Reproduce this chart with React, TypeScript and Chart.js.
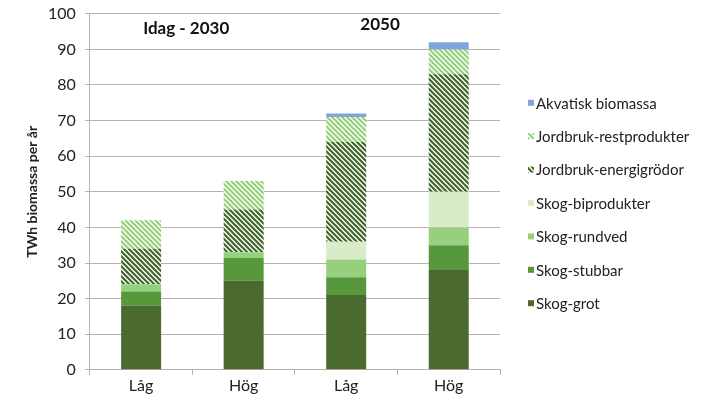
import React, { useEffect, useRef } from "react";
import { Chart, registerables } from "chart.js";

Chart.register(...registerables);

const categories = ["Låg", "Hög", "Låg", "Hög"];
const periodLabels = ["Idag - 2030", "2050"];
const skogGrot = [18, 25, 21, 28];
const skogStubbar = [4, 6.5, 5, 7];
const skogRundved = [2, 1.5, 5, 5];
const skogBiprodukter = [0, 0, 5, 10];
const jordbrukEnergigrodor = [10, 12, 28, 33];
const jordbrukRestprodukter = [8, 8, 7, 7];
const akvatiskBiomassa = [0, 0, 1, 2];

function makeHatch(color: string): CanvasPattern | string {
  const s = 5;
  const c = document.createElement("canvas");
  c.width = s;
  c.height = s;
  const ctx = c.getContext("2d");
  if (!ctx) return color;
  ctx.fillStyle = "#ffffff";
  ctx.fillRect(0, 0, s, s);
  ctx.strokeStyle = color;
  ctx.lineWidth = 2.2;
  ctx.lineCap = "square";
  ctx.beginPath();
  ctx.moveTo(0, 0);
  ctx.lineTo(s, s);
  ctx.moveTo(-s, 0);
  ctx.lineTo(0, s);
  ctx.moveTo(0, -s);
  ctx.lineTo(s, 0);
  ctx.moveTo(s, 0);
  ctx.lineTo(2 * s, s);
  ctx.moveTo(0, s);
  ctx.lineTo(s, 2 * s);
  ctx.stroke();
  return ctx.createPattern(c, "repeat") || color;
}

export default function App() {
  const ref = useRef<HTMLCanvasElement | null>(null);

  useEffect(() => {
    if (!ref.current) return;
    const font = "Lato, 'Open Sans', sans-serif";
    const energiHatch = makeHatch("#40662a");
    const restHatch = makeHatch("#96d07a");

    const annot = {
      id: "periodAnnot",
      afterDraw(chart: any) {
        const { ctx, scales } = chart;
        const x = scales.x;
        const y = scales.y;
        ctx.save();
        ctx.font = `bold 17px ${font}`;
        ctx.fillStyle = "#111";
        ctx.textAlign = "center";
        ctx.textBaseline = "middle";
        ctx.fillText(periodLabels[0], x.getPixelForValue(0.44), y.getPixelForValue(96));
        ctx.fillText(periodLabels[1], x.getPixelForValue(2.33), y.getPixelForValue(97));

        // custom legend (reversed order, to the right of the plot)
        const ds = chart.data.datasets;
        ctx.font = `15px ${font}`;
        ctx.textAlign = "left";
        const boxX = chart.chartArea.right + 28;
        const startY = chart.chartArea.top + 89;
        const step = 33.4;
        for (let i = ds.length - 1, k = 0; i >= 0; i--, k++) {
          const cy = startY + k * step;
          ctx.fillStyle = ds[i].backgroundColor;
          ctx.fillRect(boxX, cy - 3, 6, 6);
          ctx.fillStyle = "#222";
          ctx.fillText(ds[i].label, boxX + 8, cy + 1);
        }
        ctx.restore();
      },
    };

    const chart = new Chart(ref.current, {
      type: "bar",
      data: {
        labels: categories,
        datasets: [
          { label: "Skog-grot", data: skogGrot, backgroundColor: "#4a6a30" },
          { label: "Skog-stubbar", data: skogStubbar, backgroundColor: "#57983c" },
          { label: "Skog-rundved", data: skogRundved, backgroundColor: "#96d07c" },
          { label: "Skog-biprodukter", data: skogBiprodukter, backgroundColor: "#d8ecca" },
          { label: "Jordbruk-energigrödor", data: jordbrukEnergigrodor, backgroundColor: energiHatch as any },
          { label: "Jordbruk-restprodukter", data: jordbrukRestprodukter, backgroundColor: restHatch as any },
          { label: "Akvatisk biomassa", data: akvatiskBiomassa, backgroundColor: "#7fa6da" },
        ],
      },
      options: {
        animation: false,
        responsive: true,
        maintainAspectRatio: false,
        layout: { padding: { top: 1, left: 25, right: 213, bottom: 13 } },
        datasets: { bar: { categoryPercentage: 1, barPercentage: 0.39 } } as any,
        plugins: {
          tooltip: { enabled: false },
          legend: { display: false },
        },
        scales: {
          x: {
            stacked: true,
            grid: {
              display: true,
              drawOnChartArea: false,
              offset: true,
              tickLength: 5,
              color: "#bfaeae",
            },
            border: { color: "#bfaeae" },
            ticks: { color: "#222", font: { family: font, size: 16 }, padding: 1 },
          },
          y: {
            stacked: true,
            min: 0,
            max: 100,
            ticks: { stepSize: 10, color: "#222", font: { family: font, size: 16, lineHeight: 0.6 }, padding: 9 },
            grid: { color: "#bfaeae", tickLength: 5 },
            border: { color: "#bfaeae" },
            title: {
              display: true,
              text: "TWh biomassa per år",
              color: "#222",
              font: { family: font, size: 14, weight: "bold", lineHeight: 1 },
              padding: { top: 0, bottom: 0 },
            },
          },
        },
      },
      plugins: [annot],
    });
    return () => chart.destroy();
  }, []);

  return (
    <div style={{ position: "fixed", left: 0, top: 0, width: 713, height: 409, background: "#fff" }}>
      <canvas ref={ref} />
    </div>
  );
}
